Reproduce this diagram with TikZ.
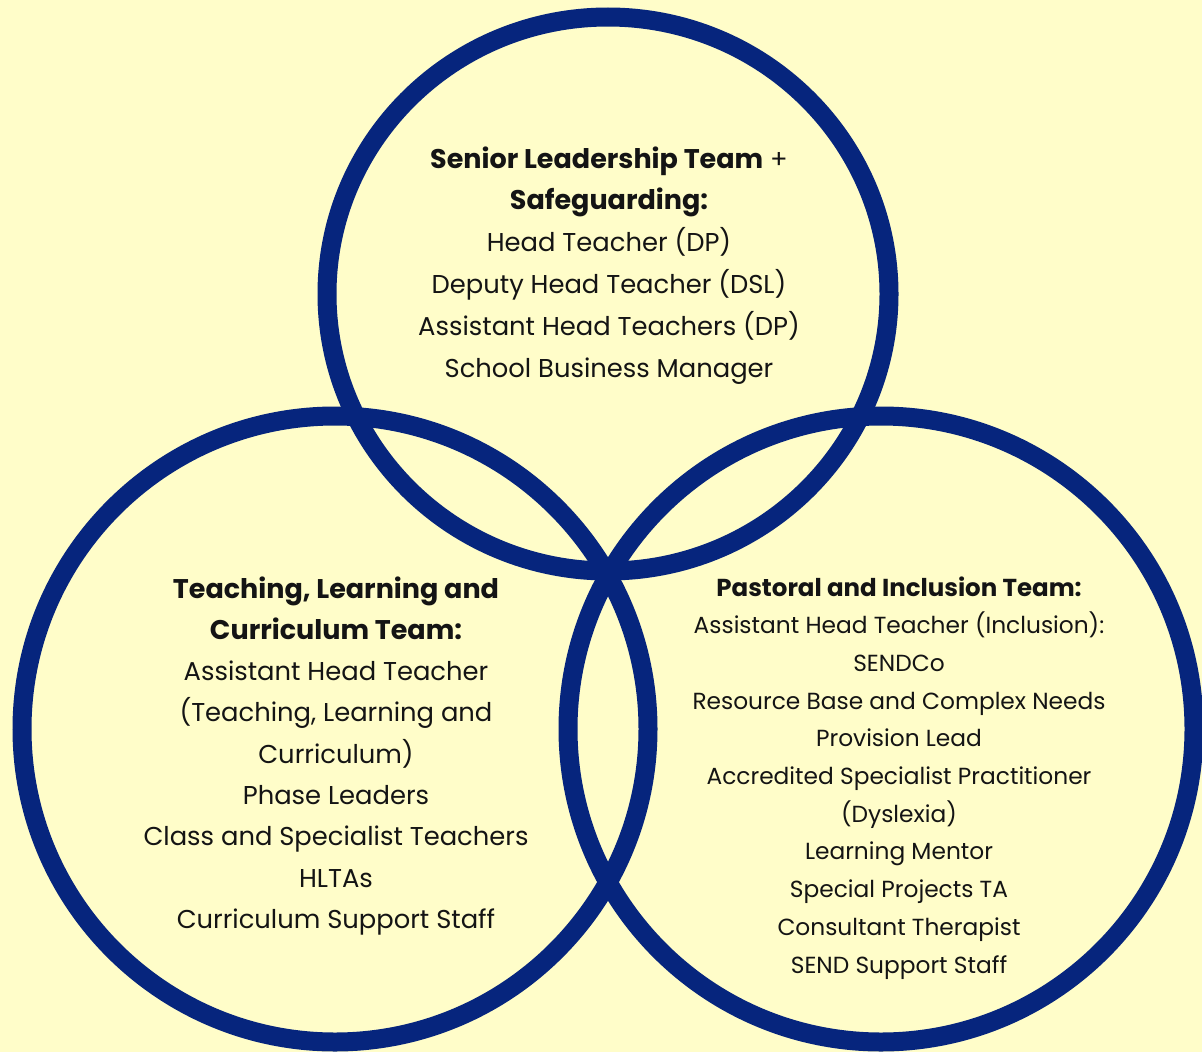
\documentclass[tikz,border=0pt]{standalone}
\usepackage{fontspec}
\setmainfont{Poppins}
\definecolor{navy}{RGB}{6,37,125}
\definecolor{bgyellow}{RGB}{255,253,201}
\definecolor{ink}{RGB}{20,20,20}
\newcommand{\hdA}[1]{{\fontsize{27}{27}\selectfont\bfseries #1}}
\newcommand{\hdB}[1]{{\fontsize{24.5}{24.5}\selectfont\bfseries #1}}
\tikzset{
  ring/.style={draw=navy, line width=19pt},
  lineA/.style={anchor=base, text=ink, inner sep=0pt, font=\fontsize{25.8}{25.8}\selectfont},
  lineB/.style={anchor=base, text=ink, inner sep=0pt, font=\fontsize{23.3}{23.3}\selectfont},
}
\begin{document}
\begin{tikzpicture}[x=1pt,y=-1pt]
\fill[bgyellow] (0,0) rectangle (1202,1052);
\useasboundingbox (0,0) rectangle (1202,1052);
\draw[ring] (608,294) ellipse [x radius=281, y radius=277];
\draw[ring] (335,729) circle [radius=313];
\draw[ring] (881,729) circle [radius=313];
% top circle text
\foreach \t [count=\i] in {{\hdA{Senior Leadership Team} +},{\hdA{Safeguarding:}},{Head Teacher (DP)},{Deputy Head Teacher (DSL)},{Assistant Head Teachers (DP)},{School Business Manager}}
  \node[lineA] (top-\i) at (609,{168+41.8*(\i-1)}) {\t};
% left circle text
\foreach \t [count=\i] in {{\hdA{Teaching, Learning and}},{\hdA{Curriculum Team:}},{Assistant Head Teacher},{(Teaching, Learning and},{Curriculum)},{Phase Leaders},{Class and Specialist Teachers},{HLTAs},{Curriculum Support Staff}}
  \node[lineA] (left-\i) at (336,{598+41.3*(\i-1)}) {\t};
% right circle text
\foreach \t [count=\i] in {{\hdB{Pastoral and Inclusion Team:}},{Assistant Head Teacher (Inclusion):},{SENDCo},{Resource Base and Complex Needs},{Provision Lead},{Accredited Specialist Practitioner},{(Dyslexia)},{Learning Mentor},{Special Projects TA},{Consultant Therapist},{SEND Support Staff}}
  \node[lineB] (right-\i) at (899,{596+37.7*(\i-1)}) {\t};
\end{tikzpicture}
\end{document}
